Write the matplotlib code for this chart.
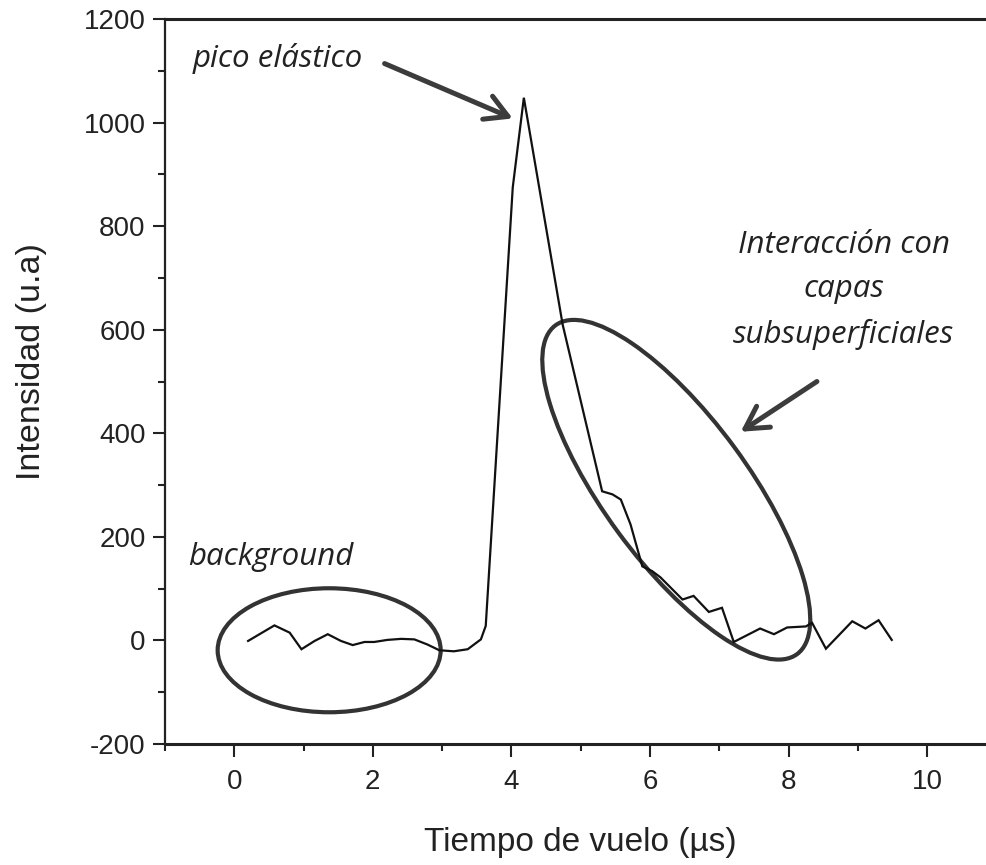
import matplotlib
matplotlib.use("Agg")
import matplotlib.pyplot as plt
from matplotlib.patches import Ellipse
from matplotlib.transforms import ScaledTranslation
from matplotlib.ticker import MultipleLocator

plt.rcParams["axes.unicode_minus"] = False

# ---- data ----
tiempo = [0.20, 0.58, 0.80, 0.97, 1.16, 1.35, 1.54, 1.71, 1.88, 2.02, 2.21, 2.41,
          2.60, 2.79, 2.96, 3.17, 3.37, 3.56, 3.63, 4.02, 4.18, 4.74, 5.31, 5.46,
          5.58, 5.72, 5.89, 6.03, 6.15, 6.47, 6.63, 6.85, 7.04, 7.21, 7.59, 7.79,
          7.98, 8.25, 8.34, 8.54, 8.92, 9.11, 9.30, 9.49]
intensidad = [-1, 29, 15, -17, -1, 12, -1, -9, -3, -3, 1, 3,
              2, -8, -19, -21, -17, 2, 28, 875, 1048, 610, 288, 282,
              272, 224, 143, 134, 122, 79, 86, 55, 63, -3, 23, 12,
              25, 27, 34, -16, 37, 23, 39, 1]

x_ticks = [0, 2, 4, 6, 8, 10]
y_ticks = [-200, 0, 200, 400, 600, 800, 1000, 1200]
x_label = "Tiempo de vuelo (µs)"
y_label = "Intensidad (u.a)"
txt_pico = "pico elástico"
txt_bg = "background"
txt_inter = "Interacción con\ncapas\nsubsuperficiales"

# ---- figure ----
fig = plt.figure(figsize=(9.86, 8.65), dpi=100)
ax = fig.add_axes([0.1673, 0.1399, 0.8432, 0.8381])
ax.set_xlim(-1, 11)
ax.set_ylim(-200, 1200)

ax.plot(tiempo, intensidad, color="#111111", lw=1.6, solid_joinstyle="miter")

ax.set_xticks(x_ticks)
ax.set_yticks(y_ticks)
ax.xaxis.set_minor_locator(MultipleLocator(1))
ax.yaxis.set_minor_locator(MultipleLocator(100))
ax.tick_params(axis="both", which="major", direction="out", length=9, width=1.5,
               labelsize=20, color="#222222", labelcolor="#222222")
ax.tick_params(axis="both", which="minor", direction="out", length=5, width=1.5,
               color="#222222")
ax.tick_params(axis="x", which="major", pad=9)
ax.tick_params(axis="y", which="major", pad=5)
for lab in ax.get_xticklabels() + ax.get_yticklabels():
    lab.set_family("Liberation Sans")

ax.spines["right"].set_visible(False)
ax.spines["left"].set_linewidth(1.6)
ax.spines["bottom"].set_linewidth(2.2)
ax.spines["top"].set_linewidth(2.2)
for s in ax.spines.values():
    s.set_color("#222222")

ax.set_xlabel(x_label, fontsize=24, family="Liberation Sans", color="#222222", va="center")
ax.xaxis.set_label_coords(0.499, -0.136)
ax.set_ylabel(y_label, fontsize=24.5, family="Liberation Sans", color="#222222", va="center")
ax.yaxis.set_label_coords(-0.160, 0.527)

# ---- annotations ----
ital = dict(family="Open Sans", style="italic", fontsize=22.5, color="#222222",
            ha="center", va="center")
ax.text(0.63, 1124, txt_pico, **ital)
ax.text(0.52, 161, txt_bg, **ital)
ax.text(8.80, 677, txt_inter, linespacing=1.62, **ital)

arrow_kw = dict(arrowstyle="->,head_length=0.8,head_width=0.45", color="#3c3c3c",
                lw=3.6, mutation_scale=20, shrinkA=0, shrinkB=0)
ax.annotate("", xy=(4.02, 1008), xytext=(2.17, 1114), arrowprops=arrow_kw)
ax.annotate("", xy=(7.31, 403), xytext=(8.41, 500), arrowprops=arrow_kw)

def add_ellipse(cx, cy, w_in, h_in, angle):
    e = Ellipse((0, 0), w_in, h_in, angle=angle, fill=False, lw=3.0,
                edgecolor="#333333",
                transform=fig.dpi_scale_trans + ScaledTranslation(cx, cy, ax.transData))
    ax.add_artist(e)

add_ellipse(1.37, -19, 2.23, 1.24, 0)
add_ellipse(6.38, 291, 4.08, 1.44, -53.7)

fig.savefig("out.png", dpi=100)
